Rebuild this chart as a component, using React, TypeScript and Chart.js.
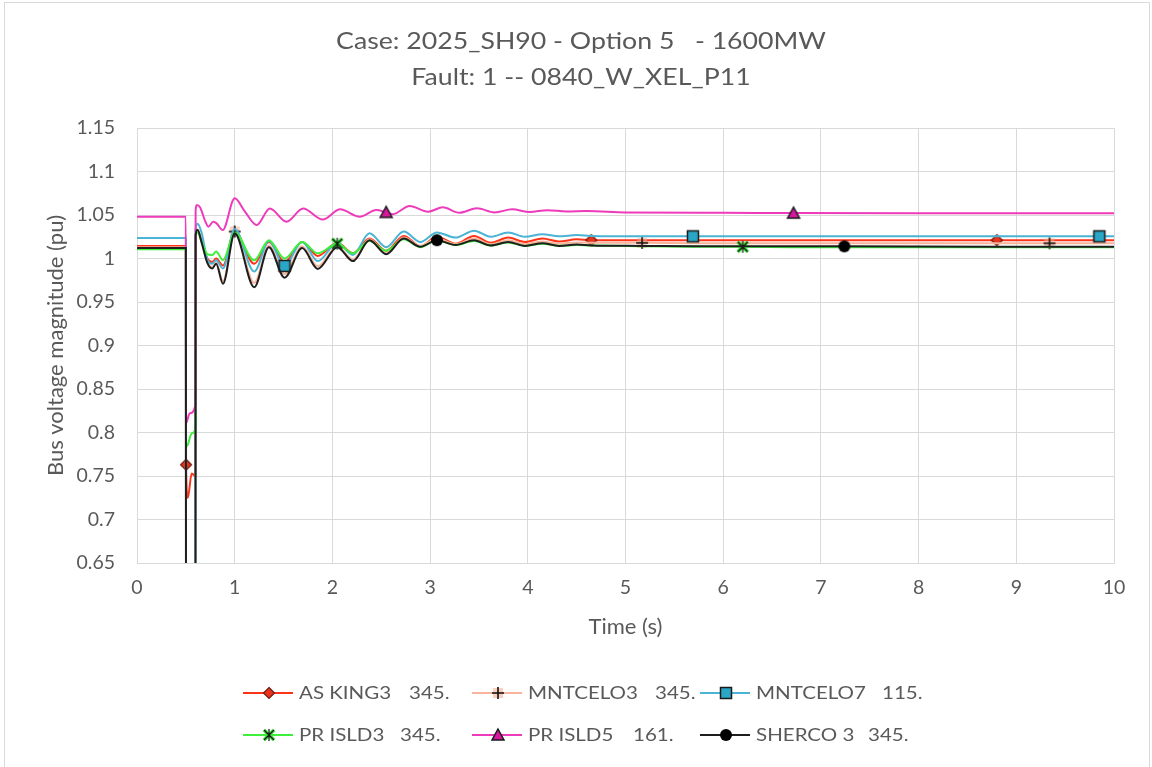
import React, { useEffect, useRef } from "react";
import { Chart, registerables } from "chart.js";

Chart.register(...registerables);

// ---------------- data ----------------
const TITLE_LINES = ["Case: 2025_SH90 - Option 5   - 1600MW", "Fault: 1 -- 0840_W_XEL_P11"];
const X_TITLE = "Time (s)";
const Y_TITLE = "Bus voltage magnitude (pu)";
const X_MIN = 0;
const X_MAX = 10;
const X_STEP = 1;
const Y_MIN = 0.65;
const Y_MAX = 1.15;
const Y_STEP = 0.05;

const SERIES_NAMES = ["AS KING3", "MNTCELO3", "MNTCELO7", "PR ISLD3", "PR ISLD5", "SHERCO 3"];
const SERIES_KV = ["345.", "345.", "115.", "345.", "161.", "345."];

const TIME = [0, 0.5, 0.502, 0.52, 0.56, 0.598, 0.6, 0.62, 0.66, 0.72, 0.77, 0.81, 0.88, 1.0, 1.2, 1.35, 1.51, 1.69, 1.85, 2.05, 2.21, 2.38, 2.55, 2.73, 2.9, 3.07, 3.26, 3.45, 3.62, 3.8, 3.97, 4.15, 4.32, 4.5, 4.65, 5.17, 5.69, 6.2, 6.72, 7.24, 8.8, 9.34, 9.85, 10];

const AS_KING3 = [1.0145, 1.0145, 0.763, 0.725, 0.753, 0.75, 1.027, 1.032, 1.02, 1.0, 0.996, 1.0, 0.992, 1.031, 0.994, 1.019, 0.996, 1.019, 1.003, 1.018, 1.006, 1.023, 1.009, 1.026, 1.014, 1.025, 1.017, 1.026, 1.018, 1.024, 1.019, 1.023, 1.0195, 1.022, 1.021, 1.021, 1.021, 1.021, 1.021, 1.021, 1.021, 1.021, 1.021, 1.021];
const MNTCELO3 = [1.013, 1.013, 0.55, 0.55, 0.56, 0.56, 1.027, 1.032, 1.019, 0.996, 0.99, 0.995, 0.974, 1.031, 0.972, 1.015, 0.982, 1.014, 0.991, 1.014, 0.999, 1.022, 1.006, 1.024, 1.0145, 1.023, 1.0165, 1.023, 1.0165, 1.021, 1.0165, 1.0195, 1.017, 1.0185, 1.018, 1.018, 1.0175, 1.0175, 1.0175, 1.0175, 1.0175, 1.0175, 1.0175, 1.0175];
const MNTCELO7 = [1.0235, 1.0235, 0.45, 0.44, 0.45, 0.46, 1.034, 1.04, 1.03, 0.999, 0.994, 0.998, 0.9885, 1.034, 0.985, 1.02, 0.9915, 1.019, 0.997, 1.018, 1.004, 1.029, 1.013, 1.031, 1.019, 1.03, 1.024, 1.032, 1.025, 1.03, 1.025, 1.028, 1.0255, 1.027, 1.026, 1.0255, 1.0255, 1.0255, 1.0255, 1.0255, 1.0255, 1.0255, 1.0255, 1.0255];
const PR_ISLD3 = [1.0105, 1.0105, 0.784, 0.786, 0.799, 0.805, 1.024, 1.03, 1.02, 1.005, 1.004, 1.008, 0.998, 1.03, 0.998, 1.021, 1.0, 1.019, 1.006, 1.017, 1.006, 1.02, 1.009, 1.022, 1.013, 1.021, 1.0155, 1.02, 1.015, 1.0185, 1.0145, 1.017, 1.0145, 1.0155, 1.015, 1.014, 1.0135, 1.0135, 1.013, 1.013, 1.013, 1.013, 1.013, 1.013];
const SHERCO3 = [1.012, 1.012, 0.4, 0.4, 0.4, 0.4, 1.027, 1.033, 1.019, 0.995, 0.9885, 0.994, 0.971, 1.029, 0.967, 1.013, 0.978, 1.012, 0.988, 1.013, 0.997, 1.021, 1.005, 1.023, 1.0135, 1.021, 1.0155, 1.021, 1.015, 1.019, 1.0145, 1.0175, 1.0145, 1.016, 1.015, 1.0145, 1.014, 1.014, 1.014, 1.014, 1.0135, 1.0135, 1.0135, 1.0135];

const TIME_PR5 = [0, 0.5, 0.502, 0.54, 0.598, 0.6, 0.61, 0.645, 0.7, 0.73, 0.78, 0.815, 0.877, 1.0, 1.105, 1.225, 1.36, 1.53, 1.7, 1.9, 2.08, 2.28, 2.45, 2.55, 2.62, 2.79, 2.98, 3.13, 3.3, 3.48, 3.66, 3.84, 4.02, 4.2, 4.4, 4.6, 5.0, 6.0, 6.72, 8.0, 10];
const PR_ISLD5 = [1.048, 1.048, 0.811, 0.822, 0.832, 1.055, 1.0615, 1.059, 1.0423, 1.0366, 1.0423, 1.0404, 1.0327, 1.0692, 1.0538, 1.0385, 1.0575, 1.0423, 1.0575, 1.0448, 1.0565, 1.048, 1.0557, 1.053, 1.051, 1.0604, 1.0538, 1.0588, 1.0526, 1.0577, 1.053, 1.0565, 1.0535, 1.0555, 1.054, 1.0545, 1.053, 1.0525, 1.0522, 1.052, 1.052];

const MK_AS_KING3 = [0.502, 4.65, 8.8];
const MK_MNTCELO3 = [1.0, 5.17, 9.34];
const MK_MNTCELO7 = [1.51, 5.69, 9.85];
const MK_PR_ISLD3 = [2.05, 6.2];
const MK_PR_ISLD5 = [2.55, 6.72];
const MK_SHERCO3 = [3.07, 7.24];

// ---------------- styles ----------------
const FONT = "Lato, 'Open Sans', sans-serif";
const TEXT_COLOR = "#595959";
const GRID_COLOR = "#d9d9d9";
const COLORS = ["#ff3318", "#f8b49a", "#4bb4d4", "#3cf03c", "#ee3bbb", "#1e1e1e"];
const TITLE_SX = 1.16;
const LEGEND_SX = 1.14;

type MarkerKind = "diamond" | "plus" | "square" | "star" | "triangle" | "circle";
const MARKER_KINDS: MarkerKind[] = ["diamond", "plus", "square", "star", "triangle", "circle"];

function makeMarker(kind: MarkerKind): HTMLCanvasElement {
  const c = document.createElement("canvas");
  const s = 16;
  c.width = s;
  c.height = s;
  const g = c.getContext("2d")!;
  const m = s / 2;
  g.lineJoin = "miter";
  if (kind === "diamond") {
    g.beginPath();
    g.moveTo(m, m - 5.5);
    g.lineTo(m + 5.5, m);
    g.lineTo(m, m + 5.5);
    g.lineTo(m - 5.5, m);
    g.closePath();
    g.fillStyle = "#e8341c";
    g.fill();
    g.strokeStyle = "#6e1b10";
    g.lineWidth = 1.2;
    g.stroke();
  } else if (kind === "plus") {
    g.fillStyle = "rgba(248,170,140,0.55)";
    g.fillRect(m - 5, m - 5, 10, 10);
    g.strokeStyle = "#111";
    g.lineWidth = 1.6;
    g.beginPath();
    g.moveTo(m - 6, m);
    g.lineTo(m + 6, m);
    g.moveTo(m, m - 6);
    g.lineTo(m, m + 6);
    g.stroke();
  } else if (kind === "square") {
    g.fillStyle = "#2aa6c6";
    g.fillRect(m - 5.5, m - 5.5, 11, 11);
    g.strokeStyle = "#1a1a1a";
    g.lineWidth = 1.5;
    g.strokeRect(m - 5.5, m - 5.5, 11, 11);
  } else if (kind === "star") {
    g.strokeStyle = "#33e633";
    g.lineWidth = 3.5;
    g.beginPath();
    g.moveTo(m - 5, m - 5);
    g.lineTo(m + 5, m + 5);
    g.moveTo(m + 5, m - 5);
    g.lineTo(m - 5, m + 5);
    g.stroke();
    g.strokeStyle = "#111";
    g.lineWidth = 1.2;
    g.beginPath();
    g.moveTo(m - 5, m - 5);
    g.lineTo(m + 5, m + 5);
    g.moveTo(m + 5, m - 5);
    g.lineTo(m - 5, m + 5);
    g.moveTo(m, m - 6);
    g.lineTo(m, m + 6);
    g.stroke();
  } else if (kind === "triangle") {
    g.beginPath();
    g.moveTo(m, m - 6);
    g.lineTo(m + 6, m + 5);
    g.lineTo(m - 6, m + 5);
    g.closePath();
    g.fillStyle = "#d4179c";
    g.fill();
    g.strokeStyle = "#1a1a1a";
    g.lineWidth = 1.5;
    g.stroke();
  } else {
    g.beginPath();
    g.arc(m, m, 6, 0, Math.PI * 2);
    g.fillStyle = "#000";
    g.fill();
  }
  return c;
}

function toXY(xs: number[], ys: number[]) {
  return xs.map((x, i) => ({ x, y: ys[i] }));
}

function makeChromePlugin(markers: HTMLCanvasElement[]) {
  return {
    id: "chrome",
    beforeDraw(chart: any) {
      const ctx = chart.ctx as CanvasRenderingContext2D;
      ctx.save();
      ctx.fillStyle = "#ffffff";
      ctx.fillRect(0, 0, chart.width, chart.height);
      ctx.strokeStyle = GRID_COLOR;
      ctx.lineWidth = 1;
      ctx.strokeRect(4.5, 2.5, 1145, 780);
      ctx.restore();
    },
    afterDraw(chart: any) {
      const ctx = chart.ctx as CanvasRenderingContext2D;
      ctx.save();
      ctx.fillStyle = TEXT_COLOR;
      ctx.textAlign = "center";
      ctx.textBaseline = "middle";
      ctx.font = `23px ${FONT}`;
      const titleY = [42, 78];
      TITLE_LINES.forEach((t, i) => {
        ctx.save();
        ctx.translate(581, titleY[i]);
        ctx.scale(TITLE_SX, 1);
        ctx.fillText(t, 0, 0);
        ctx.restore();
      });
      const cols = [243, 472, 700];
      const rows = [693, 735];
      const kvX = [409, 655, 882, 400, 633, 868];
      ctx.font = `18px ${FONT}`;
      ctx.textAlign = "left";
      SERIES_NAMES.forEach((name, i) => {
        const col = cols[i % 3];
        const y = rows[Math.floor(i / 3)];
        ctx.strokeStyle = COLORS[i];
        ctx.lineWidth = 2;
        ctx.beginPath();
        ctx.moveTo(col, y);
        ctx.lineTo(col + 50, y);
        ctx.stroke();
        const mk = markers[i];
        ctx.drawImage(mk, col + 26 - mk.width / 2, y - mk.height / 2);
        ctx.fillStyle = TEXT_COLOR;
        ctx.save();
        ctx.translate(col + 56, y);
        ctx.scale(LEGEND_SX, 1);
        ctx.fillText(name, 0, 0);
        ctx.restore();
        ctx.save();
        ctx.translate(kvX[i], y);
        ctx.scale(LEGEND_SX, 1);
        ctx.fillText(SERIES_KV[i], 0, 0);
        ctx.restore();
      });
      ctx.restore();
    },
  };
}

export default function App() {
  const ref = useRef<HTMLCanvasElement | null>(null);
  useEffect(() => {
    if (!ref.current) return;
    const markers = MARKER_KINDS.map(makeMarker);
    const seriesX = [TIME, TIME, TIME, TIME, TIME_PR5, TIME];
    const seriesY = [AS_KING3, MNTCELO3, MNTCELO7, PR_ISLD3, PR_ISLD5, SHERCO3];
    const seriesMk = [MK_AS_KING3, MK_MNTCELO3, MK_MNTCELO7, MK_PR_ISLD3, MK_PR_ISLD5, MK_SHERCO3];
    const datasets = SERIES_NAMES.map((name, i) => ({
      label: `${name}    ${SERIES_KV[i]}`,
      data: toXY(seriesX[i], seriesY[i]),
      borderColor: COLORS[i],
      backgroundColor: COLORS[i],
      borderWidth: 2,
      cubicInterpolationMode: "monotone" as const,
      order: SERIES_NAMES.length - i,
      pointStyle: markers[i],
      pointRadius: (c: any) => (c.raw && seriesMk[i].some((m) => Math.abs(m - c.raw.x) < 1e-6) ? 6 : 0),
      pointHoverRadius: 0,
    }));
    const chart = new Chart(ref.current, {
      type: "line",
      data: { datasets },
      options: {
        animation: false,
        responsive: false,
        maintainAspectRatio: false,
        events: [],
        layout: { padding: { top: 128, right: 38, bottom: 124, left: 0 } },
        plugins: { legend: { display: false }, title: { display: false }, tooltip: { enabled: false } },
        scales: {
          x: {
            type: "linear",
            min: X_MIN,
            max: X_MAX,
            ticks: { stepSize: X_STEP, font: { family: FONT, size: 19.5 }, color: TEXT_COLOR, padding: 13, maxRotation: 0 },
            grid: { color: GRID_COLOR, drawTicks: false, lineWidth: 1 },
            border: { color: GRID_COLOR },
            title: { display: true, text: X_TITLE, font: { family: FONT, size: 22 }, color: TEXT_COLOR, padding: { top: 0, bottom: 3 } },
            afterFit: (s: any) => {
              s.height = 80;
            },
          },
          y: {
            type: "linear",
            min: Y_MIN,
            max: Y_MAX,
            ticks: {
              stepSize: Y_STEP,
              font: { family: FONT, size: 19.5 },
              color: TEXT_COLOR,
              padding: 22,
              callback: (v: any) => String(Number(Number(v).toFixed(2))),
            },
            grid: { color: GRID_COLOR, drawTicks: false, lineWidth: 1 },
            border: { color: GRID_COLOR },
            title: { display: true, text: Y_TITLE, font: { family: FONT, size: 22 }, color: TEXT_COLOR, padding: { top: 43, bottom: 0 } },
            afterFit: (s: any) => {
              s.width = 137;
            },
          },
        },
      },
      plugins: [makeChromePlugin(markers)],
    });
    return () => chart.destroy();
  }, []);
  return (
    <div style={{ position: "fixed", left: 0, top: 0, width: 1152, height: 767, background: "#fff" }}>
      <canvas ref={ref} width={1152} height={767} style={{ width: 1152, height: 767, display: "block" }} />
    </div>
  );
}
